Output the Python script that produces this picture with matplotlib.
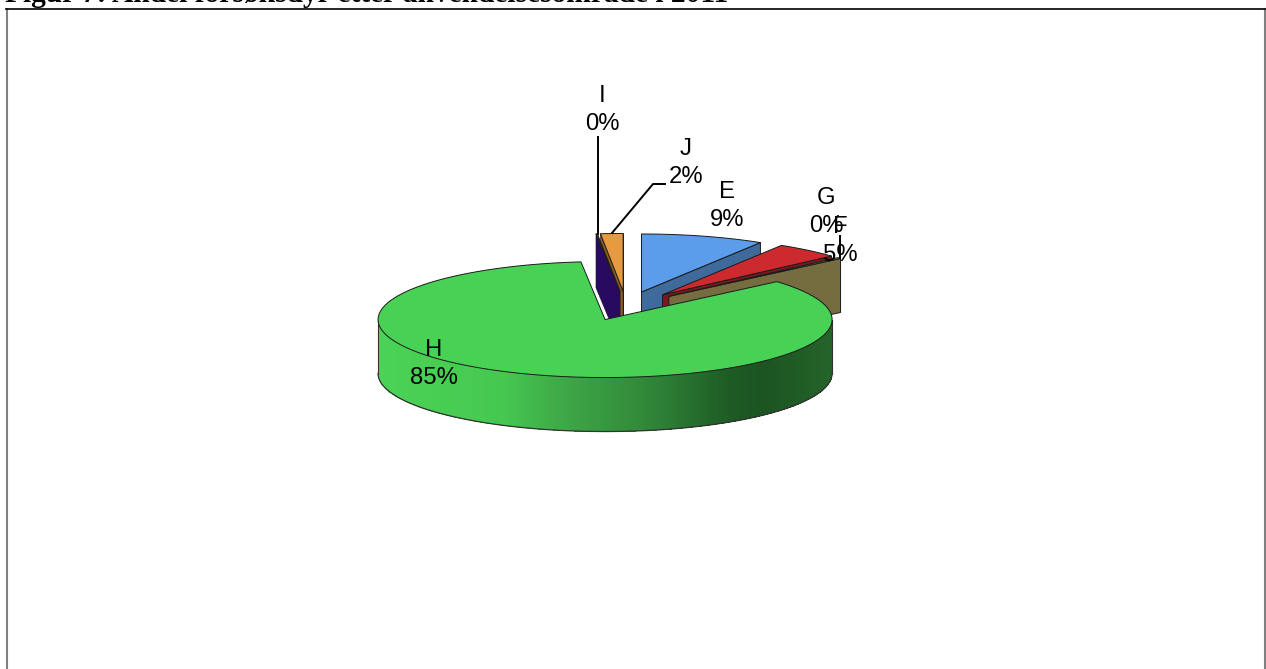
import numpy as np
import matplotlib
matplotlib.use("Agg")
import matplotlib.pyplot as plt
from matplotlib.collections import PolyCollection
from matplotlib.colors import LinearSegmentedColormap

categories = ["E", "F", "G", "H", "I", "J"]
values = [8.8, 4.6, 0.3, 84.9, 0.1, 1.6]
shown_pct = ["9%", "5%", "0%", "85%", "0%", "2%"]

top_colors = ["#5B9DEA", "#CC2A2E", "#9A8F55", "#48D255", "#8A5C20", "#E89A40"]
side_colors = ["#3F6A9C", "#7A1A1E", "#756C40", "#3A9A44", "#280A60", "#8A5C20"]
edge = "#1a1a1a"

title = "Figur 7: Andel forsøksdyr etter anvendelsesområde i 2011"

W, H = 1266, 669
CX, CY, RX, RY, DEPTH, EXPLODE = 626, 306, 227, 58, 54, 57

plt.rcParams["font.family"] = ["Liberation Sans", "DejaVu Sans"]
fig = plt.figure(figsize=(W / 100, H / 100), dpi=100)
ax = fig.add_axes([0, 0, 1, 1])
ax.set_xlim(0, W)
ax.set_ylim(H, 0)
ax.axis("off")

# frame
ax.plot([6.5, 6.5], [8.5, H], color="#808080", lw=1.5, zorder=0)
ax.plot([1264.5, 1264.5], [8.5, H], color="#808080", lw=1.5, zorder=0)
ax.plot([6, 1265], [8.5, 8.5], color="#000000", lw=1.2, zorder=0)

fracs = np.array(values) / sum(values)
ends = np.cumsum(fracs) * 2 * np.pi
starts = ends - fracs * 2 * np.pi


def apex(i):
    mid = (starts[i] + ends[i]) / 2
    return CX + EXPLODE * np.sin(mid), CY - EXPLODE * RY / RX * np.cos(mid)


def rim(i, t):
    ax0, ay0 = apex(i)
    return ax0 + RX * np.sin(t), ay0 - RY * np.cos(t)


def top_face(i, z):
    ts = np.linspace(starts[i], ends[i], max(int(np.degrees(ends[i] - starts[i])) * 2, 2))
    pts = [apex(i)] + [rim(i, t) for t in ts]
    ax.fill(*zip(*pts), facecolor=top_colors[i], edgecolor=edge, lw=0.7, zorder=z, joinstyle="round")


def radial_face(i, t, z, lw=0.7):
    a = apex(i)
    r = rim(i, t)
    pts = [a, r, (r[0], r[1] + DEPTH), (a[0], a[1] + DEPTH)]
    ax.fill(*zip(*pts), facecolor=side_colors[i], edgecolor=edge, lw=lw, zorder=z)


# back slices, painter's order
E, F, G, HH, I, J = range(6)
radial_face(E, ends[E], 1)
top_face(E, 2)
radial_face(J, starts[J], 3, lw=0.4)
radial_face(J, ends[J], 4, lw=0.4)
top_face(J, 5)
radial_face(I, starts[I], 6, lw=0.4)
top_face(I, 6.5)
radial_face(F, ends[F], 7)
top_face(F, 8)
radial_face(G, ends[G], 9)
top_face(G, 10)

# front rim of the large slice with horizontal shading
shade = LinearSegmentedColormap.from_list(
    "rim",
    [(0.0, "#4AD356"), (0.27, "#46C850"), (0.42, "#3DA546"), (0.58, "#328A3A"),
     (0.78, "#1D5A24"), (0.85, "#1C5422"), (1.0, "#246429")],
)
ts = np.linspace(max(starts[HH], np.pi / 2), min(ends[HH], 1.5 * np.pi), 400)
polys, cols = [], []
xs = [rim(HH, t)[0] for t in ts]
xmin, xmax = min(xs), max(xs)
for t0, t1 in zip(ts[:-1], ts[1:]):
    p0, p1 = rim(HH, t0), rim(HH, t1)
    polys.append([p0, p1, (p1[0], p1[1] + DEPTH), (p0[0], p0[1] + DEPTH)])
    cols.append(shade(((p0[0] + p1[0]) / 2 - xmin) / (xmax - xmin)))
ax.add_collection(PolyCollection(polys, facecolors=cols, edgecolors="none", linewidths=0,
                                 antialiaseds=False, zorder=11))
low = [(x, y + DEPTH) for x, y in (rim(HH, t) for t in ts)]
ax.plot(*zip(*low), color="#333333", lw=0.9, zorder=12)
for t in (ts[0], ts[-1]):
    r = rim(HH, t)
    ax.plot([r[0], r[0]], [r[1], r[1] + DEPTH], color="#333333", lw=0.8, zorder=12)
top_face(HH, 13)

# leader lines
ax.plot([597.5, 597.5], [137, 234], color="black", lw=1.4, zorder=14)
ax.plot([612, 653, 665], [233, 184, 184], color="black", lw=1.4, zorder=14)
ax.plot([839.5, 839.5], [236, 258], color="black", lw=1.4, zorder=14)

# labels: centre x, centre y of the two-line block
label_pos = {"E": (727, 206), "F": (840, 241), "G": (826, 212),
             "H": (434, 364), "I": (602, 110), "J": (686, 163)}
for c, pct in zip(categories, shown_pct):
    x, y = label_pos[c]
    ax.text(x, y, f"{c}\n{pct}", ha="center", va="center", fontsize=17.2,
            linespacing=1.3, color="black", zorder=20)

fig.text(5 / W, 1 - 2.5 / H, title, family="Liberation Serif", weight="bold",
         fontsize=21.2, ha="left", va="baseline", color="black")

fig.savefig("out.png", dpi=100)
